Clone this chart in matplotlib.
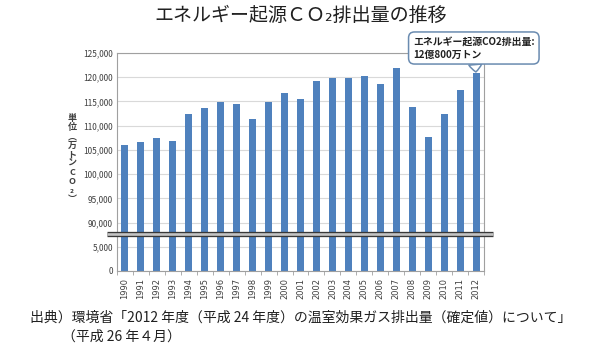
import numpy as np
import matplotlib
matplotlib.use('Agg')
import matplotlib.pyplot as plt
from matplotlib.ticker import FixedLocator, FuncFormatter

plt.rcParams['font.family'] = ['Noto Sans CJK JP', 'DejaVu Sans']

# energy-related CO2 emissions (10,000 t-CO2), fiscal years 1990-2012
years = [str(y) for y in range(1990, 2013)]
emissions = [105970, 106700, 107530, 106850, 112400, 113640, 114800, 114450,
             111380, 114860, 116770, 115430, 119320, 119870, 119870, 120290,
             118570, 121850, 113890, 107610, 112470, 117330, 120800]
ytick_vals = [0, 5000, 90000, 95000, 100000, 105000, 110000, 115000, 120000, 125000]

title = 'エネルギー起源ＣＯ₂排出量の推移'
ylabel_chars = ['単', '位', '︵', '万', 'ト', 'ン', 'C', 'O', '₂', '︶']
callout = 'エネルギー起源CO2排出量:\n12億800万トン'
source1 = '出典）環境省「2012 年度（平成 24 年度）の温室効果ガス排出量（確定値）について」'
source2 = '（平成 26 年４月）'

bar_color = '#4f81bd'
grid_color = '#d9d9d9'
text_color = '#404040'

# broken axis: squeeze 7,400-87,600 into a tiny band
brk_in = [-1e6, 0, 7400, 87600, 1e6]
brk_out = [-1e6, 0, 7400, 7600, 1e6 - 80000]


def fwd(v):
    return np.interp(v, brk_in, brk_out)


def inv(d):
    return np.interp(d, brk_out, brk_in)


fig = plt.figure(figsize=(5.95, 3.48), dpi=100)
ax = fig.add_axes([117 / 595, 1 - 271 / 348, 367 / 595, 218 / 348])
ax.set_yscale('function', functions=(fwd, inv))

x = np.arange(len(years))
ax.bar(x, emissions, width=0.44, color=bar_color, zorder=2)

ax.set_xlim(-0.5, len(years) - 0.5)
ax.set_ylim(0, 125000)

ax.yaxis.set_major_locator(FixedLocator(ytick_vals))
ax.yaxis.set_minor_locator(FixedLocator([]))
ax.yaxis.set_major_formatter(FuncFormatter(lambda v, p: f'{int(v):,}'))
ax.tick_params(axis='y', length=0, labelsize=6, labelcolor=text_color, pad=3)
ax.grid(axis='y', color=grid_color, lw=0.8, zorder=0)

ax.set_xticks(x)
ax.set_xticklabels(years, rotation=90, fontsize=6, color=text_color,
                   family='DejaVu Sans')
ax.set_xticks(np.arange(-0.5, len(years)), minor=True)
ax.tick_params(axis='x', which='major', length=0, pad=5)
ax.tick_params(axis='x', which='minor', length=3, color='#a0a0a0')

for s in ax.spines.values():
    s.set_color('#a0a0a0')
    s.set_linewidth(0.8)

# axis break marker
ax.plot([-0.027, 1.025], [0.17, 0.17], transform=ax.transAxes, color='#383838',
        lw=3.8, clip_on=False, zorder=5, solid_capstyle='butt')
ax.plot([-0.027, 1.025], [0.17, 0.17], transform=ax.transAxes, color='#c4c4c4',
        lw=1.9, clip_on=False, zorder=6, solid_capstyle='butt')

# callout for the latest year
ax.annotate(callout, xy=(x[-1], emissions[-1]), xycoords='data',
            xytext=(413, 348 - 48), textcoords='figure pixels',
            ha='left', va='center', fontsize=7.1, fontweight='bold',
            color='#202020', linespacing=1.4,
            bbox=dict(boxstyle='round,pad=0.45,rounding_size=0.6', fc='white',
                      ec='#6a8bb0', lw=1.1),
            arrowprops=dict(arrowstyle='wedge,tail_width=1.3,shrink_factor=0.6',
                            fc='white', ec='#6a8bb0', lw=1.1,
                            shrinkA=0, shrinkB=1),
            annotation_clip=False, zorder=10)

fig.text(301 / 595, 1 - 15 / 348, title, ha='center', va='center', fontsize=13.7,
         color='#202020')
fig.text(72 / 595, 1 - 159 / 348, '\n'.join(ylabel_chars), ha='center', va='center',
         fontsize=6.5, fontweight='bold', color=text_color, linespacing=1.0)
fig.text(30 / 595, 1 - 318 / 348, source1, ha='left', va='center', fontsize=10,
         color='#202020')
fig.text(62 / 595, 1 - 337 / 348, source2, ha='left', va='center', fontsize=10,
         color='#202020')

fig.savefig('out.png', dpi=100)
